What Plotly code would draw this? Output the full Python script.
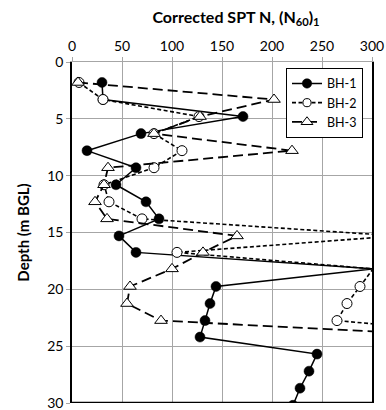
import plotly.graph_objects as go

# Depth (m BGL) of SPT tests
depth = [1.8, 3.3, 4.8, 6.3, 7.8, 9.3, 10.8, 12.3, 13.8, 15.3, 16.75, 18.2,
         19.75, 21.25, 22.75, 24.2, 25.7, 27.2, 28.7, 30.2]

# Corrected SPT N, (N60)1
bh1 = [30, 31, 171, 69, 15, 64, 44, 74, 87, 47, 64, 301,
       144, 138, 133, 128, 245, 237, 228, 221]
bh2 = [7, 31, 127, 82, 110, 82, 32, 37, 70, 325, 105, 301,
       288, 275, 265, 446]
bh3 = [6, 202, 128, 82, 220, 36, 32, 23, 35, 165, 131, 100,
       58, 55, 89, 411]

x_ticks = [0, 50, 100, 150, 200, 250, 300]
y_ticks = [0, 5, 10, 15, 20, 25, 30]

FONT = "Lato"

def sizes(vals, s):
    # markers of points beyond the axis maximum are not drawn
    return [s if v <= 300 else 0 for v in vals]

fig = go.Figure()
fig.add_trace(go.Scatter(
    x=bh1, y=depth[:len(bh1)], name="BH-1", mode="lines+markers",
    line=dict(color="black", width=1.5),
    marker=dict(symbol="circle", size=sizes(bh1, 10), color="#000000", opacity=1,
                line=dict(color="#000000", width=0.5)),
))
fig.add_trace(go.Scatter(
    x=bh2, y=depth[:len(bh2)], name="BH-2", mode="lines+markers",
    line=dict(color="black", width=1.6, dash="4px,2.5px"),
    marker=dict(symbol="circle", size=sizes(bh2, 10), color="white", opacity=1,
                line=dict(color="black", width=1)),
))
fig.add_trace(go.Scatter(
    x=bh3, y=depth[:len(bh3)], name="BH-3", mode="lines+markers",
    line=dict(color="black", width=1.8, dash="10px,5px"),
    marker=dict(symbol="triangle-up", size=sizes(bh3, 11), color="white", opacity=1,
                line=dict(color="black", width=1)),
))

fig.update_layout(
    width=386, height=410,
    margin=dict(l=72, r=14, t=62, b=7, autoexpand=False),
    paper_bgcolor="white", plot_bgcolor="white",
    font=dict(family=FONT, size=14, color="black"),
    title=dict(text="<b>Corrected SPT N, (N<sub>60</sub>)<sub>1</sub></b>",
               x=(236 - 72) / 300, xref="paper", xanchor="center",
               y=1 - 17 / 410, yanchor="middle",
               font=dict(family=FONT, size=16, color="black")),
    xaxis=dict(range=[0, 300], side="top", tickvals=x_ticks,
               showgrid=True, gridcolor="#a6a6a6", gridwidth=1,
               showline=True, linecolor="#a6a6a6", linewidth=1,
               ticks="outside", ticklen=4, tickcolor="#a6a6a6",
               zeroline=False, tickfont=dict(size=14),
               ticklabeloverflow="allow"),
    yaxis=dict(range=[30, 0], tickvals=y_ticks,
               showgrid=True, gridcolor="#a6a6a6", gridwidth=1,
               showline=True, mirror=True, linecolor="black", linewidth=1.5,
               ticks="outside", ticklen=4, tickcolor="#a6a6a6",
               zeroline=False, tickfont=dict(size=14),
               ticklabeloverflow="allow",
               title=dict(text="<b>Depth (m BGL)</b>", standoff=14,
                          font=dict(family=FONT, size=15))),
    legend=dict(x=0.97, xanchor="right", y=0.983, yanchor="top",
                bgcolor="white", bordercolor="black", borderwidth=1,
                font=dict(size=12.5), tracegroupgap=0),
    shapes=[dict(type="line", xref="x", yref="y", x0=0, x1=300, y0=30, y1=30,
                 layer="above", line=dict(color="black", width=2.5))],
)

fig.write_html("out.html")
